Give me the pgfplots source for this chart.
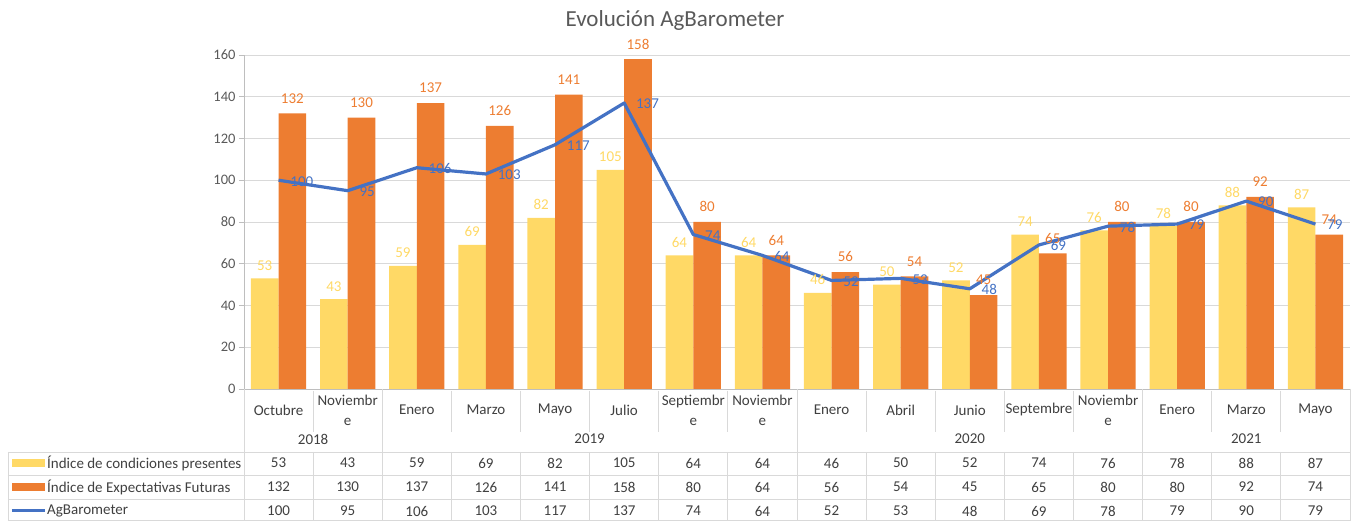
\documentclass[border=0pt]{standalone}
\usepackage{fontspec}
\setmainfont{Carlito}
\usepackage{pgfplots}
\usepackage{pgfplotstable}
\pgfplotsset{compat=1.18}
\definecolor{cyel}{HTML}{FFD966}
\definecolor{cora}{HTML}{ED7D31}
\definecolor{cblu}{HTML}{4472C4}
\definecolor{ctxt}{HTML}{595959}
\definecolor{cgrid}{HTML}{D9D9D9}
\definecolor{ctab}{HTML}{404040}

\pgfplotstableread{
i cond exp ag
0 53 132 100
1 43 130 95
2 59 137 106
3 69 126 103
4 82 141 117
5 105 158 137
6 64 80 74
7 64 64 64
8 46 56 52
9 50 54 53
10 52 45 48
11 74 65 69
12 76 80 78
13 78 80 79
14 88 92 90
15 87 74 79
}\data

\begin{document}
\begin{tikzpicture}[x=1pt,y=1pt]
\path[use as bounding box] (-244,-132) rectangle (1113,389);
\begin{axis}[at={(0,0)}, anchor=south west, scale only axis, width=1106pt, height=334pt,
 xmin=-0.5, xmax=15.5, ymin=0, ymax=160, ytick={0,20,...,160}, xtick=\empty,
 ymajorgrids, grid style={cgrid, line width=0.8pt},
 axis x line*=bottom, axis y line*=left, axis line style={-, cgrid!70!gray, line width=0.8pt},
 ytick style={cgrid!70!gray, line width=0.8pt}, tick align=outside, major tick length=5pt,
 yticklabel style={font=\fontsize{14.5}{16}\selectfont, text=ctxt},
 /pgf/number format/assume math mode=true,
 clip=false,
 ]
\addplot[ybar, bar width=0.4, bar shift=0, fill=cyel, draw=none, nodes near coords,
  every node near coord/.append style={text=cyel, font=\fontsize{15}{16}\selectfont, anchor=south, yshift=4.5pt}]
  table[x expr=\thisrow{i}-0.2,y=cond]{\data};
\addplot[ybar, bar width=0.4, bar shift=0, fill=cora, draw=none, nodes near coords,
  every node near coord/.append style={text=cora, font=\fontsize{15}{16}\selectfont, anchor=south, yshift=6.5pt}]
  table[x expr=\thisrow{i}+0.2,y=exp]{\data};
\addplot[cblu, line width=3.2pt, line join=round, mark=none, nodes near coords,
  every node near coord/.append style={text=cblu, font=\fontsize{15}{16}\selectfont, anchor=west, xshift=7pt, yshift=-1pt}]
  table[x=i,y=ag]{\data};
% data table values
\addplot[draw=none, mark=none, nodes near coords, point meta=explicit,
  every node near coord/.append style={text=ctab, font=\fontsize{15}{16}\selectfont, anchor=center}]
  table[x=i, y expr=-35.449, meta=cond]{\data};
\addplot[draw=none, mark=none, nodes near coords, point meta=explicit,
  every node near coord/.append style={text=ctab, font=\fontsize{15}{16}\selectfont, anchor=center}]
  table[x=i, y expr=-46.946, meta=exp]{\data};
\addplot[draw=none, mark=none, nodes near coords, point meta=explicit,
  every node near coord/.append style={text=ctab, font=\fontsize{15}{16}\selectfont, anchor=center}]
  table[x=i, y expr=-58.443, meta=ag]{\data};
\end{axis}
% table grid
\begin{scope}[cgrid, line width=0.8pt]
\foreach \j in {1,3,4,5,6,7,9,10,11,12,14,15} \draw (69.125*\j, -2) -- (69.125*\j, -43);
\foreach \j in {0,2,8,13,16} \draw (69.125*\j,0) -- (69.125*\j,-63);
\foreach \j in {0,...,16} \draw (69.125*\j,-63) -- (69.125*\j,-132);
\draw (-236,-63) -- (-236,-132);
\foreach \y in {-63,-86,-110,-131.5} \draw (-236,\y) -- (1106,\y);
\end{scope}
% month labels
\foreach \lab [count=\k from 0] in {Octubre,{Noviembr\\e},Enero,Marzo,Mayo,Julio,{Septiembr\\e},{Noviembr\\e},Enero,Abril,Junio,Septembre,{Noviembr\\e},Enero,Marzo,Mayo}
  \node[align=center, font=\fontsize{15}{20}\selectfont, text=ctab, inner sep=0pt] at (69.125*\k+34.5625, -21) {\lab};
% year labels
\begin{scope}[font=\fontsize{15}{16}\selectfont, text=ctab]
\node at (69.125, -50) {2018};
\node at (345.625, -50) {2019};
\node at (725.8, -50) {2020};
\node at (1002.3, -50) {2021};
\end{scope}
% legend column
\fill[cyel] (-232,-78) rectangle (-199,-70);
\fill[cora] (-232,-102) rectangle (-199,-94);
\draw[cblu, line width=3pt] (-232,-122) -- (-199,-122);
\begin{scope}[font=\fontsize{15}{16}\selectfont, text=ctab]
\node[anchor=west, inner sep=0pt] at (-197,-74) {Índice de condiciones presentes};
\node[anchor=west, inner sep=0pt] at (-197,-98) {Índice de Expectativas Futuras};
\node[anchor=west, inner sep=0pt] at (-197,-122) {AgBarometer};
\end{scope}
% title
\node[font=\fontsize{23}{26}\selectfont, text=ctxt] at (431,369) {Evolución AgBarometer};
\end{tikzpicture}
\end{document}
